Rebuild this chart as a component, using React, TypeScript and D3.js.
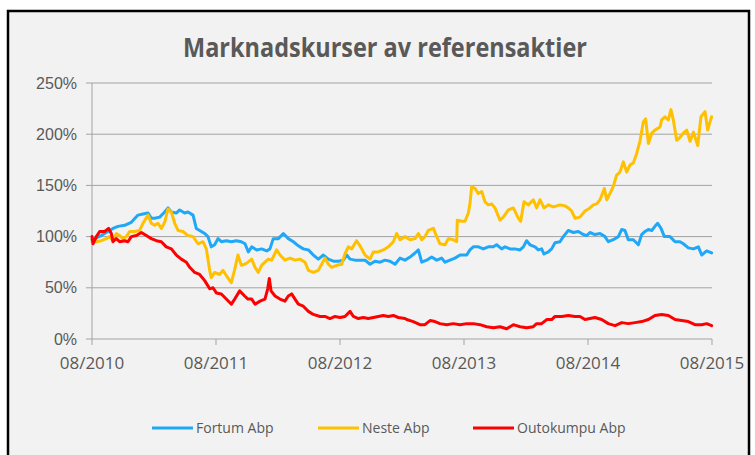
import React from 'react';
import * as d3 from 'd3';

const TITLE = 'Marknadskurser av referensaktier';
// x = years since 08/2010
const X_TICKS = [0, 1, 2, 3, 4, 5];
const X_LABELS = ['08/2010', '08/2011', '08/2012', '08/2013', '08/2014', '08/2015'];
const Y_TICKS = [0, 50, 100, 150, 200, 250];
const SERIES_NAMES = ['Fortum Abp', 'Neste Abp', 'Outokumpu Abp'];
const COLORS = ['#20A8F8', '#FFC000', '#FF0000'];

const fortum: [number, number][] = [
  [0, 97], [0.022, 98], [0.075, 101], [0.129, 105], [0.169, 108], [0.21, 110], [0.263, 111], [0.317, 114],
  [0.371, 121], [0.411, 122], [0.452, 123], [0.478, 118], [0.505, 118], [0.546, 119], [0.586, 124], [0.613, 128],
  [0.64, 124], [0.68, 123], [0.707, 126], [0.747, 123], [0.774, 124], [0.815, 121], [0.841, 108], [0.868, 106],
  [0.909, 103], [0.935, 100], [0.962, 90], [0.989, 92], [1.016, 98], [1.043, 95], [1.083, 96], [1.124, 95],
  [1.164, 96], [1.204, 95], [1.234, 93], [1.261, 85], [1.288, 90], [1.328, 87], [1.368, 88], [1.409, 86],
  [1.435, 88], [1.462, 98], [1.503, 98], [1.543, 103], [1.583, 98], [1.624, 95], [1.664, 91], [1.704, 88],
  [1.745, 87], [1.785, 82], [1.825, 78], [1.866, 82], [1.906, 78], [1.946, 76], [1.987, 76], [2.027, 77],
  [2.054, 82], [2.081, 78], [2.121, 77], [2.161, 77], [2.202, 77], [2.242, 73], [2.282, 76], [2.323, 75],
  [2.363, 77], [2.403, 76], [2.444, 73], [2.484, 79], [2.524, 77], [2.565, 80], [2.605, 84], [2.632, 87],
  [2.659, 75], [2.699, 77], [2.739, 80], [2.78, 77], [2.82, 79], [2.847, 75], [2.887, 77], [2.927, 79],
  [2.968, 82], [3.022, 82], [3.048, 87], [3.075, 90], [3.116, 90], [3.156, 88], [3.196, 90], [3.237, 90],
  [3.263, 92], [3.304, 88], [3.331, 90], [3.371, 88], [3.411, 88], [3.452, 87], [3.479, 90], [3.505, 96],
  [3.532, 92], [3.573, 90], [3.599, 87], [3.626, 88], [3.645, 83], [3.68, 85], [3.707, 88], [3.734, 94],
  [3.774, 95], [3.801, 100], [3.841, 106], [3.882, 104], [3.922, 105], [3.962, 102], [3.989, 101], [4.016, 104],
  [4.056, 102], [4.097, 103], [4.137, 100], [4.164, 95], [4.204, 97], [4.245, 100], [4.272, 107], [4.298, 106],
  [4.325, 97], [4.366, 97], [4.406, 92], [4.433, 102], [4.46, 105], [4.487, 107], [4.514, 106], [4.54, 110],
  [4.562, 113], [4.589, 108], [4.616, 100], [4.661, 100], [4.702, 95], [4.742, 95], [4.769, 93], [4.809, 89],
  [4.85, 88], [4.89, 90], [4.917, 82], [4.957, 86], [4.997, 84],
];

const neste: [number, number][] = [
  [0, 95], [0.035, 95], [0.075, 96], [0.116, 98], [0.142, 100], [0.169, 96], [0.196, 103], [0.223, 101],
  [0.25, 98], [0.277, 100], [0.304, 105], [0.344, 105], [0.384, 106], [0.411, 113], [0.452, 121], [0.478, 113],
  [0.505, 111], [0.532, 113], [0.559, 108], [0.586, 114], [0.613, 127], [0.64, 124], [0.667, 113], [0.694, 106],
  [0.734, 105], [0.774, 101], [0.815, 100], [0.855, 93], [0.895, 95], [0.922, 88], [0.949, 67], [0.962, 60],
  [0.989, 65], [1.03, 63], [1.056, 67], [1.083, 62], [1.124, 55], [1.151, 68], [1.177, 82], [1.204, 72],
  [1.231, 73], [1.258, 75], [1.288, 78], [1.315, 70], [1.341, 65], [1.368, 72], [1.395, 75], [1.422, 78],
  [1.449, 77], [1.489, 87], [1.516, 82], [1.556, 77], [1.597, 79], [1.637, 77], [1.677, 78], [1.718, 75],
  [1.745, 67], [1.785, 65], [1.825, 67], [1.852, 73], [1.879, 79], [1.906, 73], [1.933, 70], [1.973, 72],
  [2.013, 73], [2.04, 83], [2.067, 90], [2.094, 88], [2.134, 96], [2.161, 91], [2.202, 82], [2.242, 78],
  [2.269, 85], [2.309, 85], [2.349, 87], [2.39, 90], [2.43, 95], [2.457, 103], [2.484, 97], [2.524, 100],
  [2.565, 97], [2.605, 98], [2.632, 103], [2.659, 97], [2.685, 100], [2.712, 106], [2.753, 108], [2.78, 100],
  [2.806, 93], [2.847, 92], [2.874, 98], [2.914, 97], [2.941, 95], [2.946, 116], [2.981, 115], [3.008, 115],
  [3.035, 123], [3.048, 132], [3.062, 149], [3.089, 147], [3.116, 142], [3.143, 144], [3.169, 134], [3.196, 131],
  [3.223, 132], [3.25, 128], [3.29, 116], [3.317, 119], [3.358, 126], [3.398, 128], [3.438, 118], [3.457, 115],
  [3.484, 134], [3.519, 131], [3.559, 136], [3.586, 128], [3.613, 136], [3.645, 128], [3.68, 131], [3.72, 129],
  [3.774, 131], [3.815, 130], [3.841, 128], [3.868, 125], [3.895, 118], [3.935, 119], [3.976, 125], [4.016, 128],
  [4.043, 131], [4.07, 132], [4.097, 136], [4.132, 147], [4.151, 136], [4.177, 142], [4.204, 149], [4.231, 160],
  [4.258, 163], [4.285, 173], [4.312, 163], [4.339, 170], [4.366, 172], [4.392, 181], [4.419, 193], [4.446, 212],
  [4.465, 215], [4.487, 191], [4.514, 201], [4.54, 204], [4.581, 207], [4.594, 214], [4.621, 217], [4.648, 214],
  [4.669, 224], [4.688, 214], [4.715, 194], [4.742, 197], [4.769, 201], [4.796, 204], [4.823, 193], [4.85, 202],
  [4.885, 189], [4.911, 217], [4.944, 222], [4.965, 204], [4.984, 212], [4.997, 217],
];

const outokumpu: [number, number][] = [
  [0, 100], [0.008, 93], [0.035, 100], [0.062, 105], [0.102, 105], [0.134, 108], [0.156, 103], [0.169, 95],
  [0.196, 98], [0.223, 95], [0.263, 96], [0.29, 95], [0.317, 100], [0.358, 101], [0.398, 104], [0.438, 101],
  [0.478, 98], [0.519, 96], [0.559, 95], [0.599, 90], [0.64, 88], [0.68, 82], [0.72, 78], [0.761, 75],
  [0.788, 70], [0.828, 65], [0.868, 63], [0.909, 57], [0.949, 49], [0.976, 50], [1.003, 45], [1.043, 44],
  [1.083, 39], [1.124, 34], [1.151, 39], [1.191, 47], [1.231, 42], [1.258, 39], [1.288, 39], [1.315, 34],
  [1.355, 37], [1.395, 39], [1.417, 49], [1.43, 59], [1.444, 47], [1.476, 42], [1.516, 39], [1.556, 37],
  [1.583, 42], [1.61, 44], [1.637, 39], [1.664, 34], [1.704, 32], [1.745, 27], [1.785, 24], [1.839, 22],
  [1.879, 22], [1.919, 20], [1.96, 22], [2.0, 21], [2.04, 22], [2.081, 27], [2.108, 22], [2.148, 20],
  [2.188, 21], [2.228, 20], [2.269, 21], [2.309, 22], [2.349, 23], [2.39, 22], [2.43, 23], [2.47, 21],
  [2.524, 20], [2.538, 19], [2.591, 17], [2.645, 14], [2.685, 14], [2.726, 18], [2.766, 17], [2.806, 15],
  [2.86, 14], [2.914, 15], [2.968, 14], [3.022, 15], [3.075, 15], [3.129, 14], [3.183, 12], [3.237, 11],
  [3.29, 12], [3.344, 10], [3.398, 14], [3.452, 12], [3.505, 11], [3.559, 12], [3.586, 15], [3.626, 15],
  [3.667, 19], [3.707, 19], [3.734, 22], [3.774, 22], [3.788, 22], [3.841, 23], [3.895, 22], [3.935, 22],
  [3.976, 19], [4.016, 20], [4.056, 21], [4.11, 19], [4.164, 15], [4.218, 13], [4.272, 16], [4.325, 15],
  [4.379, 16], [4.433, 17], [4.487, 19], [4.54, 23], [4.594, 24], [4.648, 23], [4.702, 19], [4.755, 18],
  [4.809, 17], [4.863, 14], [4.917, 14], [4.957, 15], [4.997, 13],
];

const SERIES = [fortum, neste, outokumpu];

export default function App() {
  const W = 755;
  const H = 455;
  const x = d3.scaleLinear().domain([0, 5]).range([92, 712]);
  const y = d3.scaleLinear().domain([0, 250]).range([339, 83]);
  const line = d3.line<[number, number]>().x((d) => x(d[0])).y((d) => y(d[1]));
  const grid = '#a3a3a3';
  const txt = '#595959';
  const legendX = [152, 318, 473];
  return (
    <svg width={W} height={H} style={{ position: 'absolute', left: 0, top: 0, display: 'block' }}>
      <rect x={0} y={0} width={W} height={H} fill="#ffffff" />
      <rect x={8} y={11} width={741} height={470} fill="#f2f2f2" stroke="#000" strokeWidth={2.5} />
      <text x={385} y={57} textAnchor="middle" fontFamily="'Open Sans', sans-serif" fontWeight="bold"
        fontSize={27} fill={txt} textLength={404} lengthAdjust="spacingAndGlyphs">{TITLE}</text>
      {Y_TICKS.map((t) => (
        <g key={'y' + t}>
          <line x1={t === 0 ? 86 : 86} x2={x(5)} y1={y(t)} y2={y(t)} stroke={grid} strokeWidth={1} />
          <text x={77} y={y(t)} dy="0.35em" textAnchor="end" fontFamily="'Liberation Sans', Arial, sans-serif"
            fontSize={16} fill={txt}>{t + '%'}</text>
        </g>
      ))}
      <line x1={x(0)} x2={x(0)} y1={y(250)} y2={y(0)} stroke={grid} strokeWidth={1} />
      {X_TICKS.map((t, i) => (
        <g key={'x' + t}>
          <line x1={x(t)} x2={x(t)} y1={y(0)} y2={y(0) + 6} stroke={grid} strokeWidth={1} />
          <text x={x(t)} y={369} textAnchor="middle" fontFamily="'Open Sans', sans-serif" fontSize={17}
            fill={txt}>{X_LABELS[i]}</text>
        </g>
      ))}
      {SERIES.map((s, i) => (
        <path key={'s' + i} d={line(s) || ''} fill="none" stroke={COLORS[i]} strokeWidth={3}
          strokeLinejoin="round" strokeLinecap="round" />
      ))}
      {SERIES_NAMES.map((n, i) => (
        <g key={'l' + i}>
          <line x1={legendX[i]} x2={legendX[i] + 41} y1={428} y2={428} stroke={COLORS[i]} strokeWidth={3} />
          <text x={legendX[i] + 44} y={433} fontFamily="'Open Sans', sans-serif" fontSize={14} fill={txt}>{n}</text>
        </g>
      ))}
    </svg>
  );
}
